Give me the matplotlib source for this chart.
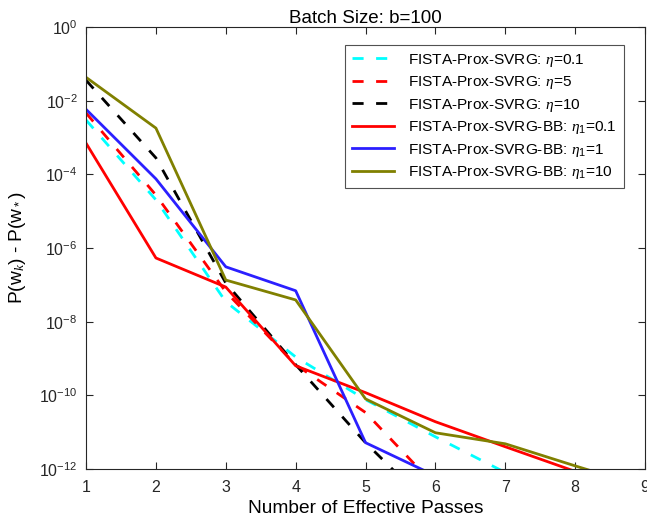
import matplotlib
matplotlib.use("Agg")
import matplotlib.pyplot as plt
import numpy as np

plt.rcParams['font.family'] = ['Liberation Sans', 'DejaVu Sans']
plt.rcParams['mathtext.fontset'] = 'custom'
plt.rcParams['mathtext.rm'] = 'Liberation Sans'
plt.rcParams['mathtext.it'] = 'Liberation Serif:italic'

# passes
passes = [1, 2, 3, 4, 5, 6, 7, 8, 9]

# log10 of P(w_k) - P(w_*)
svrg_eta01 = [-2.52, -4.69, -7.46, -8.96, -10.12, -11.13, -12.1]
svrg_eta5 = [-2.33, -4.56, -7.19, -9.17, -10.47, -12.47]
svrg_eta10 = [-1.44, -3.55, -6.95, -9.17, -11.29, -13.16]
bb_eta01 = [-3.15, -6.27, -7.06, -9.20, -9.93, -10.72, -11.40, -12.07]
bb_eta1 = [-2.23, -4.12, -6.51, -7.16, -11.29, -12.19]
bb_eta10 = [-1.36, -2.74, -6.87, -7.41, -10.10, -11.02, -11.32, -11.92, -12.5]

labels = ['FISTA-Prox-SVRG: $\\eta$=0.1',
          'FISTA-Prox-SVRG: $\\eta$=5',
          'FISTA-Prox-SVRG: $\\eta$=10',
          'FISTA-Prox-SVRG-BB: $\\eta_1$=0.1',
          'FISTA-Prox-SVRG-BB: $\\eta_1$=1',
          'FISTA-Prox-SVRG-BB: $\\eta_1$=10']
series = [svrg_eta01, svrg_eta5, svrg_eta10, bb_eta01, bb_eta1, bb_eta10]
colors = ['#00ffff', '#ff0000', '#000000', '#ff0000', '#2b1fff', '#808000']
styles = [(0, (4, 4.5)), (0, (4, 4.5)), (0, (4, 4.5)), '-', '-', '-']

fig = plt.figure(figsize=(6.47, 5.25), dpi=100)
ax = fig.add_axes([0.133, 0.107, 0.864, 0.841])

for s, c, ls, lab in zip(series, colors, styles, labels):
    x = passes[:len(s)]
    ax.semilogy(x, 10.0 ** np.array(s), color=c, linestyle=ls, linewidth=2, label=lab)

ax.set_xlim(1, 9)
ax.set_ylim(1e-12, 1)
ax.set_yticks([10.0 ** (-k) for k in range(0, 13, 2)])
ax.yaxis.set_minor_locator(matplotlib.ticker.NullLocator())
ax.set_xticks(range(1, 10))

for sp in ax.spines.values():
    sp.set_color('#262626')
    sp.set_linewidth(0.8)
ax.tick_params(direction='in', top=True, right=True, length=5, width=0.8,
               colors='#262626', labelsize=11.5)
ax.tick_params(axis='x', pad=8)
ax.tick_params(axis='y', pad=6)

ax.set_title('Batch Size: b=100', fontsize=13.5, pad=3)
ax.set_xlabel('Number of Effective Passes', fontsize=13.8, labelpad=4)
ax.set_ylabel('P(w$_k$) - P(w$_*$)', fontsize=13.8, labelpad=8)

leg = ax.legend(loc='upper right', bbox_to_anchor=(0.976, 0.978), fontsize=11.1,
                frameon=True, fancybox=False, handlelength=2.75, handletextpad=0.9,
                borderpad=0.45, labelspacing=0.36, edgecolor='#262626')
leg.get_frame().set_linewidth(0.8)

fig.savefig('out.png', dpi=100)
